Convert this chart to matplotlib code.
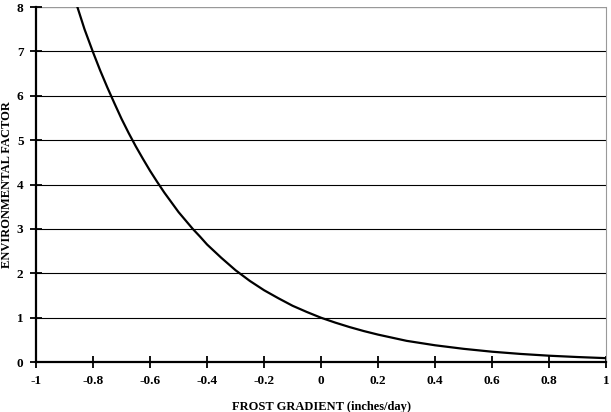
import numpy as np
import matplotlib
matplotlib.use("Agg")
import matplotlib.pyplot as plt

# values
frost_gradient = [-0.855, -0.83, -0.8, -0.775, -0.75, -0.725, -0.7, -0.675, -0.65, -0.625,
                  -0.6, -0.575, -0.55, -0.525, -0.5, -0.475, -0.45, -0.425, -0.4, -0.375,
                  -0.35, -0.3, -0.25, -0.2, -0.15, -0.1, -0.05, 0.0, 0.05, 0.1,
                  0.15, 0.2, 0.25, 0.3, 0.35, 0.4, 0.5, 0.6, 0.7, 0.8,
                  0.9, 1.0]
env_factor = [8.0, 7.5, 6.98, 6.57, 6.19, 5.83, 5.48, 5.16, 4.86, 4.58,
              4.31, 4.06, 3.82, 3.60, 3.38, 3.19, 3.00, 2.83, 2.65, 2.50,
              2.35, 2.07, 1.83, 1.62, 1.44, 1.27, 1.13, 1.0, 0.89, 0.79,
              0.70, 0.62, 0.55, 0.48, 0.43, 0.38, 0.30, 0.235, 0.185, 0.145,
              0.115, 0.09]

x_ticks = [-1, -0.8, -0.6, -0.4, -0.2, 0, 0.2, 0.4, 0.6, 0.8, 1]
x_tick_labels = ["-1", "-0.8", "-0.6", "-0.4", "-0.2", "0", "0.2", "0.4", "0.6", "0.8", "1"]
y_ticks = [0, 1, 2, 3, 4, 5, 6, 7, 8]

plt.rcParams['font.family'] = ['Liberation Serif', 'DejaVu Serif']

fig = plt.figure(figsize=(6.11, 4.12), dpi=100)
ax = fig.add_axes([0.059, 0.121, 0.933, 0.862])

for yv in y_ticks[1:-1]:
    ax.axhline(yv, color='black', lw=0.8, zorder=1)
ax.axhline(8, color='#999999', lw=1.0, zorder=1)

ax.plot(frost_gradient, env_factor, color='black', lw=1.6, zorder=3,
        solid_joinstyle='round')

ax.set_xlim(-1, 1)
ax.set_ylim(0, 8)
ax.set_xticks(x_ticks)
ax.set_xticklabels(x_tick_labels, fontweight='bold', fontsize=9.5)
ax.set_yticks(y_ticks)
ax.set_yticklabels([str(v) for v in y_ticks], fontweight='bold', fontsize=9.5)
ax.tick_params(direction='inout', length=8, width=1.3, pad=5)

ax.spines['top'].set_visible(False)
ax.spines['right'].set_color('#999999')
ax.spines['right'].set_linewidth(0.8)
ax.spines['left'].set_linewidth(1.6)
ax.spines['bottom'].set_linewidth(1.6)

ax.set_xlabel("FROST GRADIENT (inches/day)", fontweight='bold', fontsize=9, labelpad=10)
ax.set_ylabel("ENVIRONMENTAL FACTOR", fontweight='bold', fontsize=9, labelpad=3)

fig.savefig("out.png", dpi=100)
